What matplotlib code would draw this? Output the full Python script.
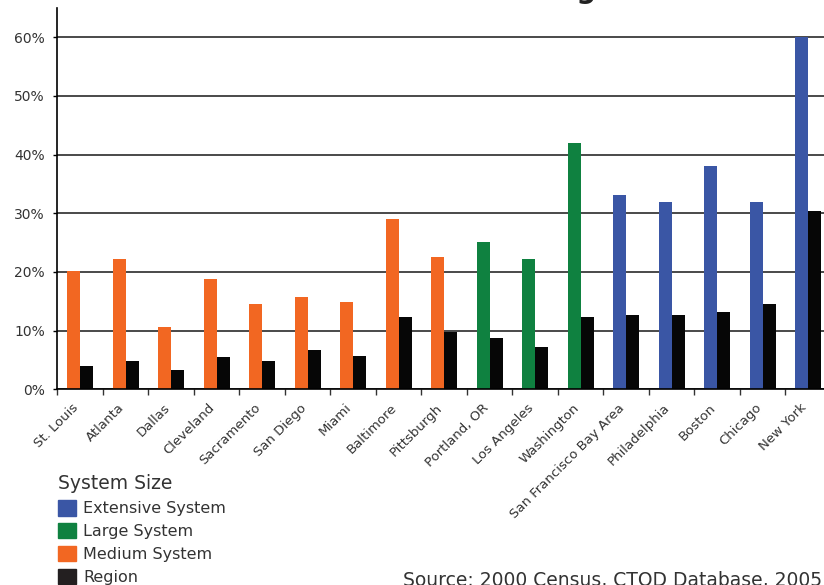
import matplotlib
matplotlib.use("Agg")
import matplotlib.pyplot as plt
import matplotlib.transforms as mtransforms
import numpy as np
from matplotlib.patches import Patch
from matplotlib.ticker import FixedLocator, PercentFormatter, NullFormatter

plt.rcParams['font.family'] = ['DejaVu Sans']

cities = ["St. Louis", "Atlanta", "Dallas", "Cleveland", "Sacramento", "San Diego",
          "Miami", "Baltimore", "Pittsburgh", "Portland, OR", "Los Angeles",
          "Washington", "San Francisco Bay Area", "Philadelphia", "Boston",
          "Chicago", "New York"]
system_size = ["Medium"] * 9 + ["Large"] * 3 + ["Extensive"] * 5
tod_share = [20.2, 22.2, 10.6, 18.8, 14.6, 15.7, 14.9, 29.1, 22.6, 25.1, 22.2,
             42.0, 33.2, 32.0, 38.1, 32.0, 60.0]
region_share = [4.0, 4.8, 3.3, 5.5, 4.8, 6.7, 5.7, 12.3, 9.8, 8.8, 7.2,
                12.3, 12.7, 12.7, 13.2, 14.6, 30.4]

size_colors = {"Extensive": "#3A56A5", "Large": "#0F8140", "Medium": "#F26722"}
region_color = "#060606"
text_color = "#333333"

W, H = 824, 585
fig = plt.figure(figsize=(W / 100, H / 100), dpi=100)
ax = fig.add_axes([57.3 / W, 1 - 389.3 / H, (831 - 57.3) / W, (389.3 - 8) / H])

x = np.arange(len(cities))
bw = 0.286
ax.bar(x - bw / 2, tod_share, width=bw, color=[size_colors[s] for s in system_size],
       zorder=3)
ax.bar(x + bw / 2, region_share, width=bw, color=region_color, zorder=3)

ax.set_xlim(-0.5, len(cities) - 0.5)
ax.set_ylim(0, 65)
ax.set_yticks(np.arange(0, 61, 10))
ax.yaxis.set_major_formatter(PercentFormatter(decimals=0))
ax.yaxis.grid(True, color="#2a2a2a", linewidth=1.2, zorder=0)
ax.tick_params(axis='y', length=3, width=1, labelsize=10, labelcolor=text_color,
               pad=6)

# tick marks sit between categories; names are drawn at the category centres
ax.xaxis.set_major_locator(FixedLocator(np.arange(-0.5, len(cities), 1.0)))
ax.xaxis.set_major_formatter(NullFormatter())
ax.tick_params(axis='x', which='major', length=4, width=1, color="#333333")
label_tf = ax.get_xaxis_transform() + mtransforms.ScaledTranslation(
    -1 / 100, -19 / 100, fig.dpi_scale_trans)
for xi, name in zip(x, cities):
    ax.text(xi, 0, name, transform=label_tf, rotation=45, ha='right',
            va='baseline', rotation_mode='anchor', fontsize=9.5,
            color=text_color)

for side in ("top", "right"):
    ax.spines[side].set_visible(False)
for side in ("left", "bottom"):
    ax.spines[side].set_linewidth(1.2)
    ax.spines[side].set_color("black")
    ax.spines[side].set_zorder(4)

fig.text(596 / W, 1 + 1.5 / H, "Transit Share of Commuting", ha='right',
         va='baseline', fontsize=20, fontweight='bold', color="#222222")

handles = [Patch(color=size_colors["Extensive"], label="Extensive System"),
           Patch(color=size_colors["Large"], label="Large System"),
           Patch(color=size_colors["Medium"], label="Medium System"),
           Patch(color="#231F20", label="Region")]
leg = fig.legend(handles=handles, title="System Size", loc='upper left',
                 bbox_to_anchor=(58 / W, 1 - 474 / H), frameon=False,
                 fontsize=11.5, title_fontsize=13.5, borderpad=0,
                 borderaxespad=0, handlelength=1.125, handleheight=1.125,
                 handletextpad=0.45, labelspacing=0.42)
leg._legend_box.align = "left"
leg._legend_box.sep = 5
for t in leg.get_texts():
    t.set_color(text_color)
leg.get_title().set_color(text_color)

fig.text(403 / W, 1 - 571 / H, "Source: 2000 Census, CTOD Database, 2005",
         ha='left', va='top', fontsize=13.5, color=text_color)

fig.savefig("out.png", dpi=100)
